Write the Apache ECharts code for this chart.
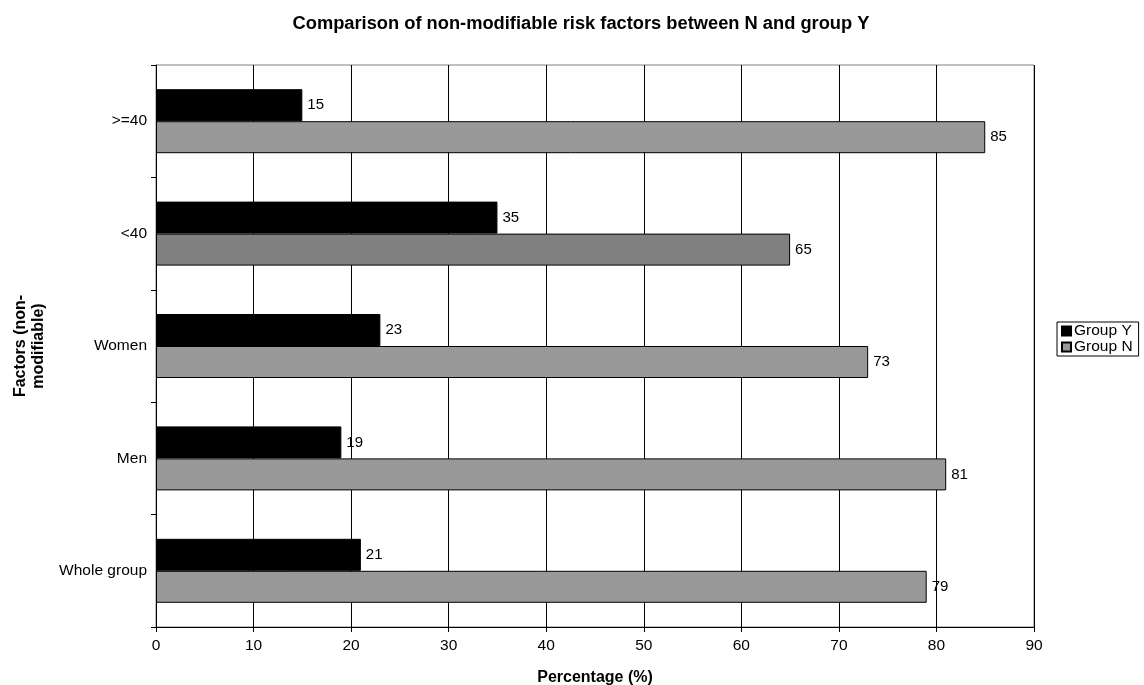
<!DOCTYPE html>
<html><head><meta charset="utf-8">
<script src="https://cdn.jsdelivr.net/npm/echarts@6/dist/echarts.min.js"></script>
<style>html,body{margin:0;padding:0;background:#fff}#c{width:1144px;height:685px}</style>
</head><body><div id="c"></div>
<script>
const categories = ['Whole group', 'Men', 'Women', '<40', '>=40'];
const groupY = [21, 19, 23, 35, 15];
const groupN = [79, 81, 73, 65, 85];
const xTicks = [0, 10, 20, 30, 40, 50, 60, 70, 80, 90];
const FONT = '"Liberation Sans", Arial, sans-serif';
const chart = echarts.init(document.getElementById('c'));
chart.setOption({
  animation: false,
  title: { text: 'Comparison of non-modifiable risk factors between N and group Y', left: 576, textAlign: 'center', top: 10,
    textStyle: { fontFamily: FONT, fontSize: 18.3, fontWeight: 'bold', color: '#000' } },
  legend: { orient: 'vertical', left: 1057, top: 322, data: ['Group Y', 'Group N'], icon: 'rect',
    borderColor: '#000', borderWidth: 1, padding: [1, 6, 1, 4], itemGap: 0, itemWidth: 9, itemHeight: 9,
    textStyle: { fontFamily: FONT, fontSize: 15.5, color: '#000', lineHeight: 16, padding: [0, 0, 0, -2] } },
  grid: { left: 156, right: 110, top: 65, bottom: 58, show: true, borderColor: '#808080', borderWidth: 1,
    outerBoundsMode: 'none', containLabel: false },
  xAxis: { type: 'value', min: 0, max: 90, interval: 10,
    name: 'Percentage (%)', nameLocation: 'middle', nameGap: 43,
    nameTextStyle: { fontFamily: FONT, fontSize: 16, fontWeight: 'bold', color: '#000' },
    axisLine: { show: true, lineStyle: { color: '#000' } },
    axisTick: { show: true, length: 5, lineStyle: { color: '#000' } },
    axisLabel: { fontFamily: FONT, fontSize: 15.5, color: '#000', margin: 11,
      formatter: v => xTicks.includes(v) ? String(v) : '' },
    splitLine: { show: true, lineStyle: { color: '#000', width: 1 } } },
  yAxis: { type: 'category', data: categories,
    name: 'Factors (non-\nmodifiable)', nameLocation: 'middle', nameGap: 108, nameRotate: 90,
    nameTextStyle: { fontFamily: FONT, fontSize: 16, fontWeight: 'bold', color: '#000', lineHeight: 18 },
    axisLine: { show: true, lineStyle: { color: '#000' } },
    axisTick: { show: true, length: 5, inside: false, lineStyle: { color: '#000' } },
    axisLabel: { fontFamily: FONT, fontSize: 15.5, color: '#000', margin: 9 },
    splitLine: { show: false } },
  series: [
    { name: 'Group Y', type: 'bar', barWidth: 32, barGap: '0%', data: groupY,
      itemStyle: { color: '#000000', borderColor: '#000', borderWidth: 1 },
      label: { show: true, position: 'right', distance: 5, fontFamily: FONT, fontSize: 15, color: '#000' } },
    { name: 'Group N', type: 'bar', barWidth: 32, barGap: '0%',
      data: groupN.map((v, i) => categories[i] === '<40' ? { value: v, itemStyle: { color: '#808080' } } : v),
      itemStyle: { color: '#999999', borderColor: '#000', borderWidth: 1 },
      label: { show: true, position: 'right', distance: 5, fontFamily: FONT, fontSize: 15, color: '#000' } }
  ]
});
</script></body></html>
